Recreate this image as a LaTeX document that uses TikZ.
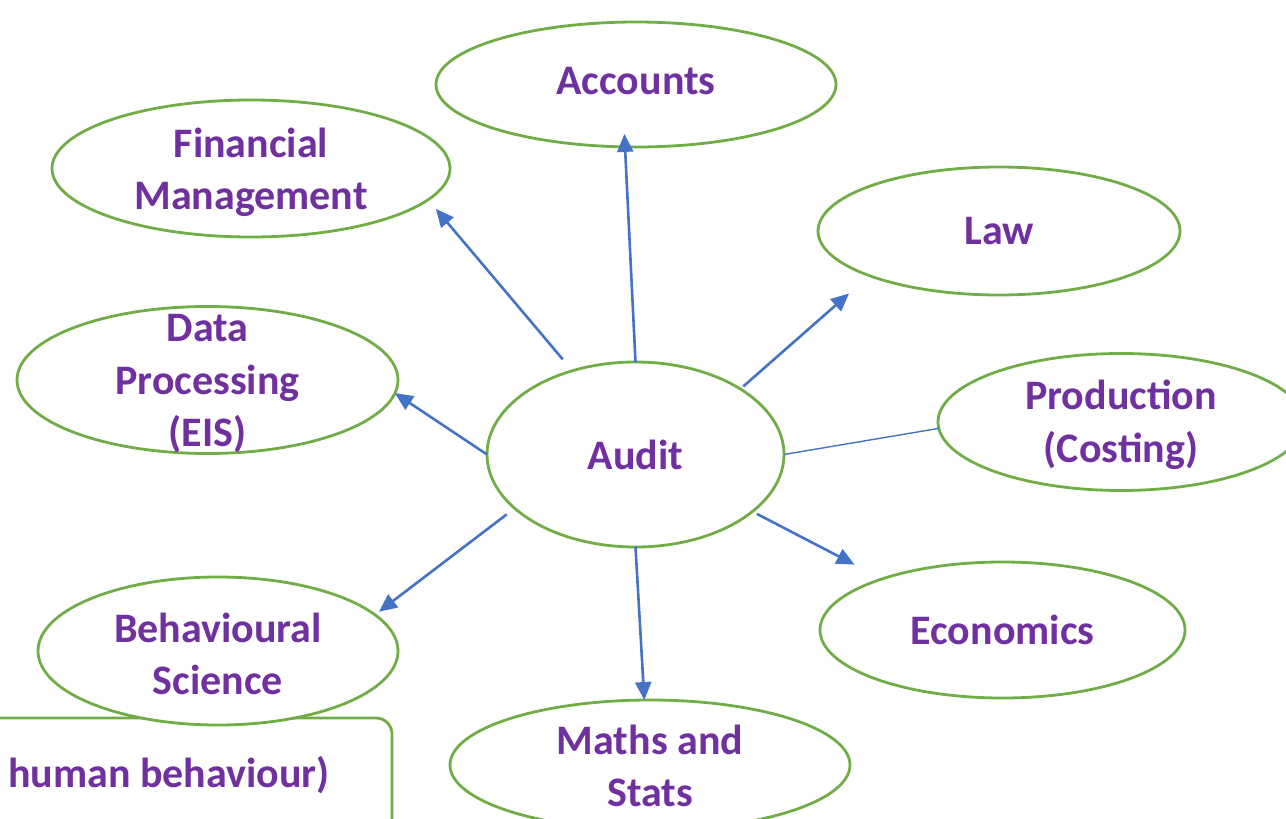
\documentclass[tikz,border=0pt]{standalone}
\usepackage{fontspec}
\setmainfont{Carlito}
\usetikzlibrary{arrows.meta, shapes.geometric}
\definecolor{topicgreen}{HTML}{70AD47}
\definecolor{linkblue}{HTML}{4472C4}
\definecolor{labelpurple}{HTML}{7030A0}

\begin{document}
\begin{tikzpicture}[x=1pt, y=-1pt,
    bubble/.style={ellipse, draw=topicgreen, fill=white, line width=2.8pt,
                   outer sep=0pt, inner sep=0pt},
    txt/.style={text=labelpurple, font=\bfseries\fontsize{42}{52.5}\selectfont,
                align=center, inner sep=0pt},
    link/.style={draw=linkblue, line width=2.6pt,
                 -{Triangle[length=18pt,width=16pt]}},
  ]
  \useasboundingbox (0,0) rectangle (1286,819);

  % note box, partly off the page
  \draw[topicgreen, line width=2.8pt, rounded corners=16pt]
    (-40,718) rectangle (392,860);
  \node[txt, anchor=east] (note) at (330,775) {human behaviour)};

  % topic bubbles
  \node[bubble, minimum width=400, minimum height=125,
        label={[txt, yshift=3pt]center:Accounts}] (acc) at (636,84.5) {};
  \node[bubble, minimum width=398, minimum height=137,
        label={[txt, yshift=-4pt]center:Financial\\Management}] (fm) at (251,168.5) {};
  \node[bubble, minimum width=362, minimum height=128,
        label={[txt]center:Law}] (law) at (999,231) {};
  \node[bubble, minimum width=381, minimum height=147,
        label={[txt, yshift=-4pt]center:Data\\Processing\\(EIS)}] (data) at (207.5,380) {};
  \node[bubble, minimum width=297, minimum height=185,
        label={[txt]center:Audit}] (audit) at (635.5,454.5) {};
  \node[bubble, minimum width=366, minimum height=137,
        label={[txt, yshift=-3pt]center:Production\\(Costing)}] (prod) at (1121,422) {};
  \node[bubble, minimum width=365, minimum height=136,
        label={[txt]center:Economics}] (econ) at (1002.5,630) {};
  \node[bubble, minimum width=360, minimum height=148,
        label={[txt, yshift=-3pt]center:Behavioural\\Science}] (behav) at (218,651) {};
  \node[bubble, minimum width=400, minimum height=130,
        label={[txt, yshift=-1pt]center:Maths and\\Stats}] (maths) at (650,765) {};

  % links out of the centre
  \draw[link, shorten >=-13pt] (audit.north) -- (acc.260);
  \draw[link, shorten <=15pt, shorten >=12pt] (audit.127) -- (fm.-10);
  \draw[link, shorten <=4pt, shorten >=27pt] (audit.32) -- (law.199);
  \draw[draw=linkblue, line width=1.4pt] (audit.east) -- (prod.182);
  \draw[link, shorten <=5pt, shorten >=31pt] (audit.-26) -- (econ.157);
  \draw[link] (audit.south) -- (maths.95);
  \draw[link, shorten <=10pt, shorten >=5pt] (audit.204) -- (behav.13);
  \draw[link] (audit.west) -- (data.-4);
\end{tikzpicture}
\end{document}
